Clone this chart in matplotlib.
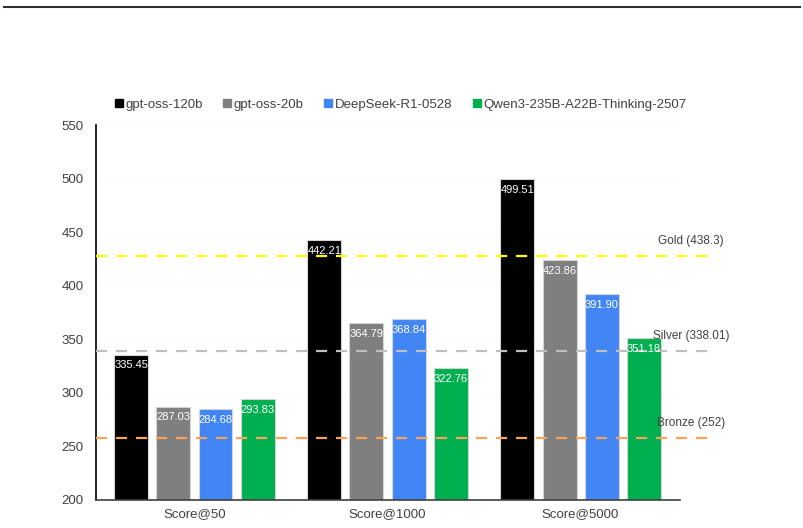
import matplotlib
matplotlib.use("Agg")
import matplotlib.pyplot as plt
import numpy as np
from matplotlib.lines import Line2D

plt.rcParams['font.family'] = ['Liberation Sans', 'DejaVu Sans']

categories = ["Score@50", "Score@1000", "Score@5000"]
series_names = ["gpt-oss-120b", "gpt-oss-20b", "DeepSeek-R1-0528", "Qwen3-235B-A22B-Thinking-2507"]
gpt_oss_120b = [335.45, 442.21, 499.51]
gpt_oss_20b = [287.03, 364.79, 423.86]
deepseek_r1 = [284.68, 368.84, 391.90]
qwen3 = [293.83, 322.76, 351.18]
series_values = [gpt_oss_120b, gpt_oss_20b, deepseek_r1, qwen3]
colors = ["#000000", "#7f7f7f", "#4285f4", "#00b050"]

medal_labels = ["Gold (438.3)", "Silver (338.01)", "Bronze (252)"]
medal_line_pos = [428, 339, 258]
medal_colors = ["#ffff00", "#bfbfbf", "#f7a35c"]

yticks = [200, 250, 300, 350, 400, 450, 500, 550]

fig = plt.figure(figsize=(8.04, 5.28), dpi=100)
ax = fig.add_axes([96/804, 28/528, 584/804, 375/528])

x = np.arange(len(categories))
pitch = 0.218
width = 0.176
offsets = (np.arange(4) - 1.5) * pitch
for i, (vals, c) in enumerate(zip(series_values, colors)):
    ax.bar(x + offsets[i], vals, width=width, color=c, edgecolor="#d4d4d4",
           linewidth=0.8, zorder=2, label=series_names[i])
    for xi, v in zip(x + offsets[i], vals):
        ax.annotate(f"{v:.2f}", (xi, v), xytext=(0, -4), textcoords="offset points",
                    ha="center", va="top", color="white", fontsize=8, zorder=4)

for pos, lab, c in zip(medal_line_pos, medal_labels, medal_colors):
    ax.axhline(pos, xmin=0, xmax=(710-96)/584, color=c, linestyle=(0, (5, 4)),
               linewidth=1.6, clip_on=False, zorder=3)
    ax.text((691-96)/584, pos + 8.5, lab, transform=ax.get_yaxis_transform(),
            ha="center", va="bottom", fontsize=8.5, color="#404040")

ax.set_xlim(-0.51, 2.515)
ax.set_ylim(200, 550)
ax.set_yticks(yticks)
ax.set_xticks(x)
ax.set_xticklabels(categories)
ax.tick_params(axis='both', length=0, labelsize=9.5, colors="#404040", pad=9)
ax.tick_params(axis='x', pad=6)
ax.yaxis.grid(True, color="#fbfbfb", linewidth=0.8, zorder=0)
ax.set_axisbelow(True)
for s in ["top", "right"]:
    ax.spines[s].set_visible(False)
ax.spines["left"].set_color("#000000")
ax.spines["left"].set_linewidth(1.2)
ax.spines["bottom"].set_color("#404040")
ax.spines["bottom"].set_linewidth(1.2)

handles = [Line2D([], [], marker="s", linestyle="none", markersize=6,
                  markerfacecolor=c, markeredgecolor=c) for c in colors]
leg = fig.legend(handles, series_names, loc="center", bbox_to_anchor=(400/804, 1 - 105/528),
                 ncol=4, frameon=False, fontsize=9.5, handletextpad=0.1, columnspacing=1.45,
                 handlelength=0.8)
for t in leg.get_texts():
    t.set_color("#404040")

fig.add_artist(Line2D([4/804, 800/804], [1 - 7/528, 1 - 7/528], color="#303030",
                      linewidth=1.5, transform=fig.transFigure))

fig.savefig("out.png", dpi=100)
